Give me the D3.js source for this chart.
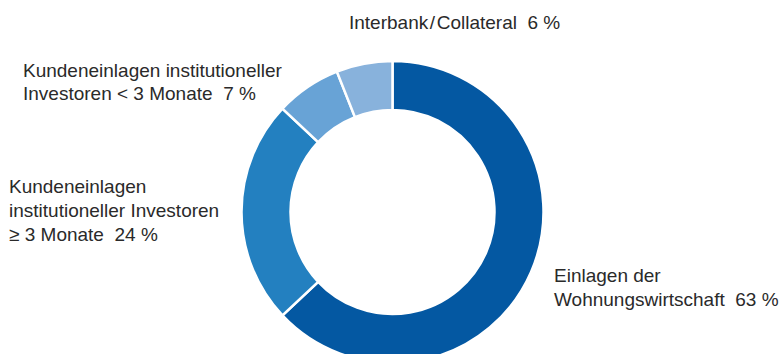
<!DOCTYPE html>
<html>
<head>
<meta charset="utf-8">
<script src="https://cdn.jsdelivr.net/npm/d3@7"></script>
<style>
  body { margin: 0; background: #fff; }
  svg text { font-family: "Liberation Sans", Arial, sans-serif; font-size: 19px; fill: #2a2a2a; white-space: pre; }
</style>
</head>
<body>
<svg id="chart"></svg>
<script>
// Chart data
const categories = [
    'Einlagen der Wohnungswirtschaft',
    'Kundeneinlagen institutioneller Investoren ≥ 3 Monate',
    'Kundeneinlagen institutioneller Investoren < 3 Monate',
    'Interbank/Collateral'
];
const shares = [63, 24, 7, 6];
const colors = ['#0458a2', '#2380c0', '#68a3d6', '#88b2dc'];
const labelLines = [
    ['Einlagen der', 'Wohnungswirtschaft  63 %'],
    ['Kundeneinlagen', 'institutioneller Investoren', '≥ 3 Monate  24 %'],
    ['Kundeneinlagen institutioneller', 'Investoren < 3 Monate  7 %'],
    ['Interbank\u200A/\u200ACollateral  6 %']
];

const width = 784, height = 354;
const cx = 392.5, cy = 212;
const outerR = 151, innerR = 102;

const svg = d3.select('#chart')
    .attr('width', width)
    .attr('height', height);

const pie = d3.pie().sort(null).value(d => d);
const arc = d3.arc().innerRadius(innerR).outerRadius(outerR);

const g = svg.append('g').attr('transform', `translate(${cx},${cy})`);

g.selectAll('path')
    .data(pie(shares))
    .enter()
    .append('path')
    .attr('d', arc)
    .attr('fill', (d, i) => colors[i])
    .attr('stroke', '#fff')
    .attr('stroke-width', 2.5);

// Label anchors (left edge, first baseline, line height)
const labelPos = [
    { x: 554, y: 282, lh: 23.5 },
    { x: 9, y: 193, lh: 24 },
    { x: 23, y: 77, lh: 22.5 },
    { x: 349, y: 29, lh: 22 }
];

const labels = svg.append('g')
    .selectAll('text')
    .data(labelLines)
    .enter()
    .append('text')
    .attr('x', (d, i) => labelPos[i].x)
    .attr('y', (d, i) => labelPos[i].y);

labels.each(function (lines, i) {
    d3.select(this).selectAll('tspan')
        .data(lines)
        .enter()
        .append('tspan')
        .attr('x', labelPos[i].x)
        .attr('dy', (l, j) => j === 0 ? 0 : labelPos[i].lh)
        .text(l => l);
});
</script>
</body>
</html>
